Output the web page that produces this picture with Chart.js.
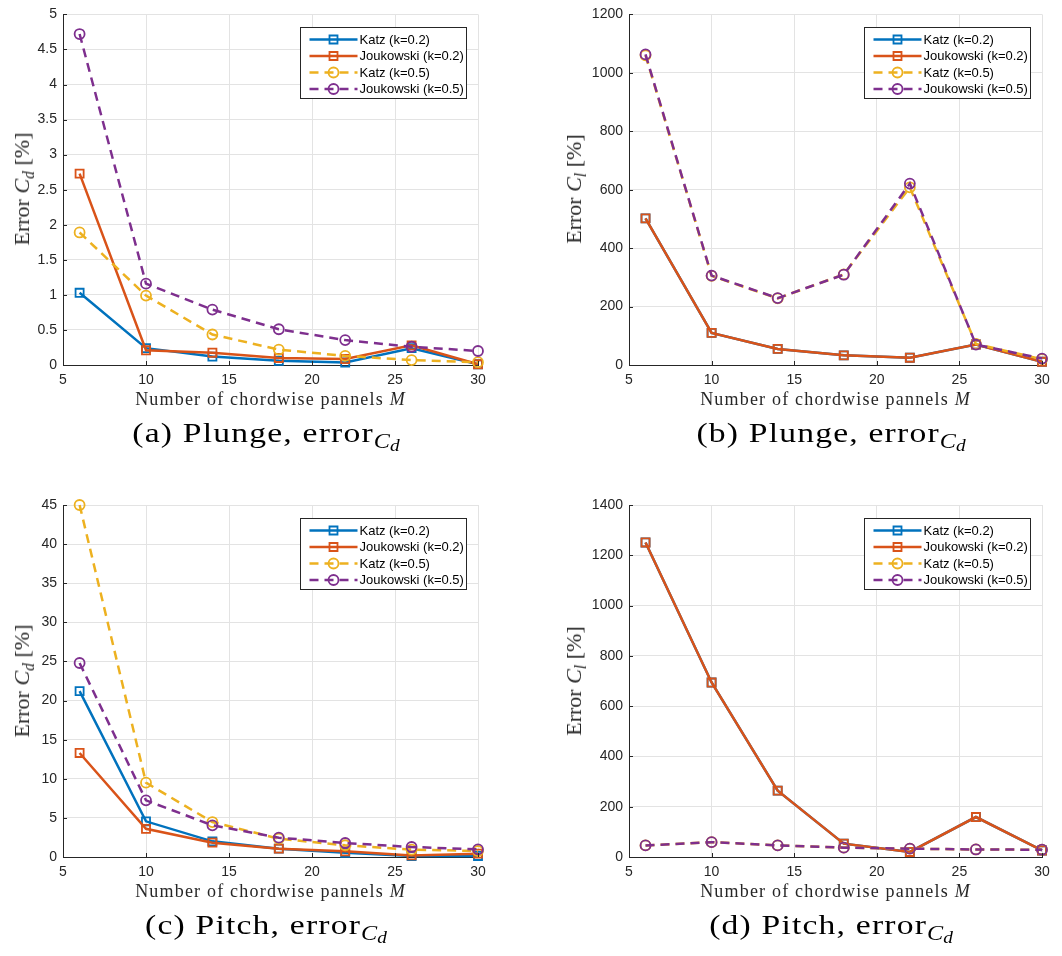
<!DOCTYPE html>
<html>
<head>
<meta charset="utf-8">
<script src="https://cdn.jsdelivr.net/npm/chart.js@4.4.1/dist/chart.umd.min.js"></script>
<style>
  body { margin: 0; background: #fff; }
  #page { position: relative; width: 1062px; height: 956px; overflow: hidden; background: #fff; }
  canvas { position: absolute; }
  .lbl { position: absolute; white-space: nowrap; line-height: 1; color: #262626; font-family: "Liberation Serif", "DejaVu Serif", serif; }
  .xt { font-size: 18px; letter-spacing: 1.2px; transform: translateX(-50%); }
  .yt { font-size: 22px; transform: translate(-50%, -50%) rotate(-90deg); }
  .cap { font-size: 28px; letter-spacing: 1px; color: #000; transform: translateX(-50%) scaleX(1.2); }
  .lbl sub { font-size: 72%; vertical-align: -0.3em; line-height: 0; letter-spacing: 0; }
  .lbl sub sub { font-size: 80%; vertical-align: -0.2em; }
</style>
</head>
<body>
<div id="page"></div>
<script>
const mPanels = [6, 10, 14, 18, 22, 26, 30];
const seriesLabels = ["Katz (k=0.2)", "Joukowski (k=0.2)", "Katz (k=0.5)", "Joukowski (k=0.5)"];
const seriesColors = ["#0072BD", "#D95319", "#EDB120", "#7E2F8E"];

// (a) plunge, error Cd [%]
const plungeCdKatz02 = [1.03, 0.24, 0.12, 0.06, 0.035, 0.24, 0.01];
const plungeCdJouk02 = [2.73, 0.21, 0.175, 0.10, 0.085, 0.28, 0.01];
const plungeCdKatz05 = [1.89, 0.99, 0.435, 0.22, 0.13, 0.07, 0.04];
const plungeCdJouk05 = [4.72, 1.16, 0.79, 0.51, 0.355, 0.26, 0.20];

// (b) plunge, error Cl [%]
const plungeClKatz02 = [502, 110, 55, 33, 25, 70, 11];
const plungeClJouk02 = [502, 110, 55, 33, 25, 70, 11];
const plungeClKatz05 = [1060, 305, 228, 310, 608, 72, 20];
const plungeClJouk05 = [1063, 306, 229, 309, 621, 70, 22];

// (c) pitch, error Cd [%]
const pitchCdKatz02 = [21.2, 4.56, 2.0, 1.07, 0.55, 0.13, 0.13];
const pitchCdJouk02 = [13.3, 3.6, 1.83, 1.07, 0.72, 0.2, 0.43];
const pitchCdKatz05 = [45.0, 9.5, 4.47, 2.34, 1.5, 0.94, 0.77];
const pitchCdJouk05 = [24.8, 7.24, 4.05, 2.47, 1.79, 1.28, 0.98];

// (d) pitch, error Cl [%]
const pitchClKatz02 = [1251, 694, 264, 53, 20, 159, 26];
const pitchClJouk02 = [1251, 694, 264, 53, 20, 159, 26];
const pitchClKatz05 = [46, 59, 46, 37, 33, 30, 29];
const pitchClJouk05 = [46, 59, 46, 37, 33, 30, 29];

const panels = [
  { left: 0,   top: 0,   yMax: 5,    yStep: 0.5, sub: "d", cap: "(a) Plunge, error",
    series: [plungeCdKatz02, plungeCdJouk02, plungeCdKatz05, plungeCdJouk05] },
  { left: 531, top: 0,   yMax: 1200, yStep: 200, sub: "l", cap: "(b) Plunge, error",
    series: [plungeClKatz02, plungeClJouk02, plungeClKatz05, plungeClJouk05] },
  { left: 0,   top: 490, yMax: 45,   yStep: 5,   sub: "d", cap: "(c) Pitch, error",
    series: [pitchCdKatz02, pitchCdJouk02, pitchCdKatz05, pitchCdJouk05] },
  { left: 531, top: 490, yMax: 1400, yStep: 200, sub: "l", cap: "(d) Pitch, error",
    series: [pitchClKatz02, pitchClJouk02, pitchClKatz05, pitchClJouk05] }
];

const W = 531, H = 420, X_H = 30;
const page = document.getElementById("page");

// matlab style tick text: 5, 4.5, 1200 (no thousands comma, no trailing zero)
function tickText(v) {
  return String(Number(v.toFixed(3)));
}

// legend box inside plot area + inward tick marks (matlab look)
const matlabBits = {
  id: "matlabBits",
  afterDraw(chart) {
    const ctx = chart.ctx;
    const area = chart.chartArea;
    const xs = chart.scales.x, ys = chart.scales.y;
    ctx.save();
    ctx.strokeStyle = "#262626";
    ctx.lineWidth = 1;
    ctx.beginPath();
    ys.ticks.forEach((t, i) => {
      const py = Math.round(ys.getPixelForTick(i)) + 0.5;
      ctx.moveTo(area.left, py); ctx.lineTo(area.left + 4, py);
    });
    xs.ticks.forEach((t, i) => {
      const px = Math.round(xs.getPixelForTick(i)) + 0.5;
      ctx.moveTo(px, area.bottom); ctx.lineTo(px, area.bottom - 4);
    });
    ctx.stroke();

    const bw = 166, bh = 71;
    const bx = Math.round(area.right - 12 - bw) + 0.5;
    const by = Math.round(area.top + 13) + 0.5;
    ctx.fillStyle = "#fff";
    ctx.fillRect(bx, by, bw, bh);
    ctx.strokeStyle = "#262626";
    ctx.strokeRect(bx, by, bw, bh);
    const rows = [12, 28.5, 45, 61.5];
    ctx.font = "13px 'Liberation Sans', Arial, sans-serif";
    ctx.textBaseline = "middle";
    chart.data.datasets.forEach((ds, i) => {
      const ry = by + rows[i];
      ctx.strokeStyle = ds.borderColor;
      ctx.lineWidth = ds.borderWidth;
      ctx.setLineDash(ds.borderDash || []);
      ctx.beginPath();
      ctx.moveTo(bx + 9, ry); ctx.lineTo(bx + 57, ry);
      ctx.stroke();
      ctx.setLineDash([]);
      ctx.lineWidth = ds.pointBorderWidth;
      ctx.beginPath();
      if (ds.pointStyle === "rect") {
        ctx.rect(bx + 33 - 4, ry - 4, 8, 8);
      } else {
        ctx.arc(bx + 33, ry, ds.pointRadius, 0, Math.PI * 2);
      }
      ctx.stroke();
      ctx.fillStyle = "#000";
      ctx.fillText(ds.label, bx + 59, ry + 0.5);
    });
    ctx.restore();
  }
};

function addLabel(cls, html, x, y) {
  const d = document.createElement("div");
  d.className = "lbl " + cls;
  d.innerHTML = html;
  d.style.left = x + "px";
  d.style.top = y + "px";
  page.appendChild(d);
}

panels.forEach((p) => {
  const isLeft = p.left === 0;
  const isTop = p.top === 0;
  const yWidth = isLeft ? 63 : 98;
  const padRight = isLeft ? 53 : 20;
  const padTop = isTop ? 13 : 15;
  const chartBottom = padTop + 352;
  const padBottom = H - chartBottom - X_H;

  const cv = document.createElement("canvas");
  cv.width = W; cv.height = H;
  cv.style.left = p.left + "px";
  cv.style.top = p.top + "px";
  page.appendChild(cv);

  const datasets = p.series.map((vals, i) => ({
    label: seriesLabels[i],
    data: mPanels.map((m, j) => ({ x: m, y: vals[j] })),
    borderColor: seriesColors[i],
    backgroundColor: seriesColors[i],
    borderWidth: 2.5,
    borderDash: i < 2 ? [] : [9, 6],
    pointStyle: i < 2 ? "rect" : "circle",
    pointRadius: i < 2 ? 5.7 : 5,
    pointBorderWidth: 1.8,
    pointBorderColor: seriesColors[i],
    pointBackgroundColor: "rgba(0,0,0,0)",
    order: 4 - i,
    clip: 10,
    tension: 0
  }));

  new Chart(cv, {
    type: "line",
    data: { datasets: datasets },
    options: {
      responsive: false,
      animation: false,
      events: [],
      layout: { padding: { left: 0, right: padRight, top: padTop, bottom: padBottom } },
      plugins: { legend: { display: false }, tooltip: { enabled: false } },
      scales: {
        x: {
          type: "linear", min: 5, max: 30,
          afterFit: (s) => { s.height = X_H; },
          ticks: { stepSize: 5, padding: 7, color: "#262626", callback: tickText,
                   font: { family: "'Liberation Sans', Arial, sans-serif", size: 14 } },
          grid: { color: "#e3e3e3", drawTicks: false },
          border: { color: "#262626", width: 1 }
        },
        y: {
          type: "linear", min: 0, max: p.yMax,
          afterFit: (s) => { s.width = yWidth; },
          ticks: { stepSize: p.yStep, padding: 6, color: "#262626", callback: tickText,
                   font: { family: "'Liberation Sans', Arial, sans-serif", size: 14 } },
          grid: { color: "#e3e3e3", drawTicks: false },
          border: { color: "#262626", width: 1 }
        }
      }
    },
    plugins: [matlabBits]
  });

  const plotL = p.left + yWidth;
  const plotR = p.left + W - padRight;
  const plotTop = p.top + padTop;
  const plotBottom = p.top + chartBottom;
  addLabel("xt", "Number of chordwise pannels <i>M</i>", (plotL + plotR) / 2, plotBottom + 25);
  addLabel("yt", "Error <i>C</i><sub><i>" + p.sub + "</i></sub> [%]",
           isLeft ? p.left + 22 : p.left + 43, (plotTop + plotBottom) / 2);
  addLabel("cap", p.cap + "<sub><i>C</i><sub><i>d</i></sub></sub>",
           (plotL + plotR) / 2 - 5, plotBottom + 54);
});
</script>
</body>
</html>
